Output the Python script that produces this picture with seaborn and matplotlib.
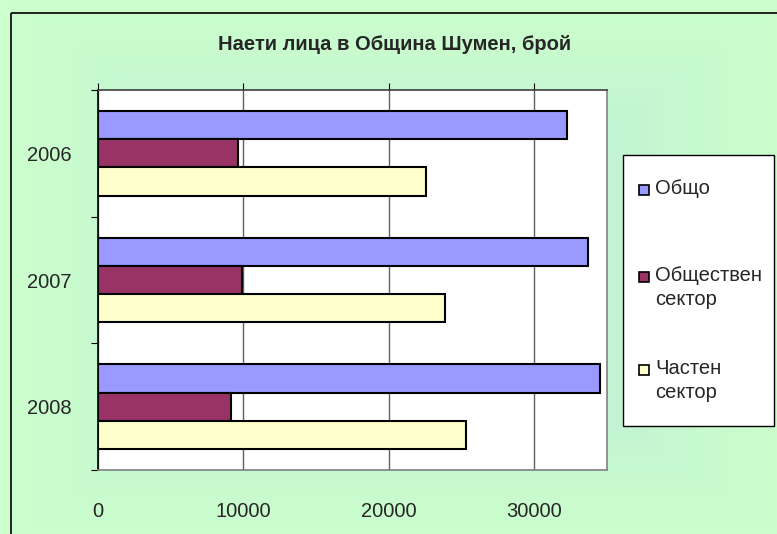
import numpy as np
import pandas as pd
import matplotlib
matplotlib.use("Agg")
import matplotlib.pyplot as plt
import seaborn as sns
from matplotlib.patches import Rectangle
from matplotlib.lines import Line2D

years = ["2006", "2007", "2008"]
series = ["Общо", "Обществен\nсектор", "Частен\nсектор"]
total = [32250, 33700, 34520]
public = [9640, 9910, 9180]
private = [22570, 23870, 25300]
colors = ["#9999ff", "#993366", "#ffffcc"]
xticks = [0, 10000, 20000, 30000]
title = "Наети лица в Община Шумен, брой"

sns.set_theme(style="white")
plt.rcParams["font.family"] = ["Liberation Sans", "DejaVu Sans"]

rows = []
for s, vals in zip(series, [total, public, private]):
    for y, v in zip(years, vals):
        rows.append({"year": y, "series": s, "value": v})
df = pd.DataFrame(rows)

W, H = 777, 534
fig = plt.figure(figsize=(W / 100, H / 100), dpi=100)

# background gradient
bg = fig.add_axes([0, 0, 1, 1], zorder=-10)
yy, xx = np.mgrid[0:H, 0:W]
cx, cy = 400, 270
t = np.maximum(np.abs(xx - cx) / 390.0, np.abs(yy - cy) / 270.0)
t = np.clip(t, 0, 1) ** 0.8
c_center = np.array([180, 226, 222]) / 255.0
c_edge = np.array([204, 255, 204]) / 255.0
img = c_center[None, None, :] * (1 - t[..., None]) + c_edge[None, None, :] * t[..., None]
bg.imshow(img, extent=[0, W, H, 0], aspect="auto", interpolation="nearest")
bg.set_xlim(0, W)
bg.set_ylim(H, 0)
bg.set_axis_off()
for sp in bg.spines.values():
    sp.set_visible(False)

# outer frame (left and top edges only)
fig.add_artist(Line2D([10.5 / W, 10.5 / W], [0, 1 - 13 / H], color="black", lw=1.2,
                      transform=fig.transFigure, solid_capstyle="butt"))
fig.add_artist(Line2D([10.5 / W, 1.0], [1 - 13 / H, 1 - 13 / H], color="black", lw=1.2,
                      transform=fig.transFigure, solid_capstyle="butt"))

def px(x0, y0, x1, y1):
    return [x0 / W, 1 - y1 / H, (x1 - x0) / W, (y1 - y0) / H]

ax = fig.add_axes(px(97.7, 90, 607, 470))
ax.set_facecolor("white")
sns.barplot(data=df, y="year", x="value", hue="series", orient="h",
            palette=colors, edgecolor="black", linewidth=1.5,
            width=0.667, ax=ax, legend=False, saturation=1)
ax.set_xlim(0, 35000)
ax.set_ylim(2.5, -0.5)
ax.set_xlabel("")
ax.set_ylabel("")
ax.set_xticks(xticks)
ax.set_xticklabels([str(v) for v in xticks], fontsize=14.5)
ax.xaxis.grid(True, color="#606060", lw=1.0)
ax.set_axisbelow(True)
ax.tick_params(axis="x", which="major", top=True, bottom=False, labeltop=False,
               labelbottom=True, direction="out", length=5, width=0.8,
               color="black", pad=18)
ax.set_yticks([0, 1, 2])
ax.set_yticklabels(years, fontsize=14.5)
ax.set_yticks([-0.5, 0.5, 1.5, 2.5], minor=True)
ax.tick_params(axis="y", which="major", left=True, length=0, pad=19)
ax.tick_params(axis="y", which="minor", left=True, length=5, width=0.8,
               direction="out", color="black")
for side, col in [("left", "black"), ("top", "#404040"), ("right", "#808080"), ("bottom", "#808080")]:
    ax.spines[side].set_visible(True)
    ax.spines[side].set_color(col)
    ax.spines[side].set_linewidth(1.2)

fig.text(395 / W, 1 - 45 / H, title, ha="center", va="center",
         fontsize=14.5, fontweight="bold")

# legend box
lg = fig.add_axes([0, 0, 1, 1], zorder=5)
lg.set_xlim(0, W)
lg.set_ylim(H, 0)
lg.set_axis_off()
lg.add_patch(Rectangle((622.7, 155), 151.3, 271, facecolor="white",
                       edgecolor="black", lw=1.0))
ys = [190, 277, 370]
for s, c, yv in zip(series, colors, ys):
    lg.add_patch(Rectangle((639, yv - 5), 10, 10, facecolor=c, edgecolor="black", lw=1.2))
    lg.text(655, yv - 11, s, ha="left", va="top", fontsize=14.5, linespacing=1.35)

fig.savefig("out.png", dpi=100)
